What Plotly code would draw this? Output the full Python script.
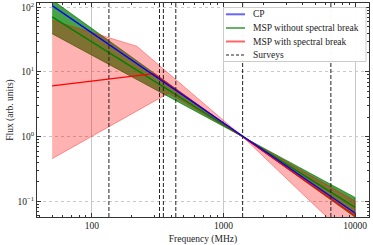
import plotly.graph_objects as go

# ---- data ----
cp_freq = [50, 10000]
cp_flux = [106, 0.066]

msp_freq = [50, 10000]
msp_flux = [71, 0.081]

green_upper_freq = [50, 1400, 10000]
green_upper_flux = [130, 1.0, 0.115]
green_lower_freq = [50, 1400, 10000]
green_lower_flux = [39, 1.0, 0.057]

brk_freq = [50, 295, 1400, 10000]
brk_flux = [6.1, 9.4, 1.0, 0.06]

red_upper_freq = [50, 220, 1400, 10000]
red_upper_flux = [63, 25, 1.0, 0.101]
red_lower_freq = [50, 383, 1400, 10000]
red_lower_flux = [0.457, 4.7, 1.0, 0.022]

survey_freqs = [135, 327, 350, 435, 1400, 6550]

x_tickvals = [100, 1000, 10000]
x_ticktext = ["100", "1000", "10000"]
y_tickvals = [0.1, 1, 10, 100]
y_ticktext = ["10<sup>\u22121</sup>", "10<sup>0</sup>", "10<sup>1</sup>", "10<sup>2</sup>"]

legend_names = ["CP", "MSP without spectral break", "MSP with spectral break", "Surveys"]
legend_colors = ["rgba(0,0,255,0.6)", "rgba(0,128,0,0.6)", "rgba(255,0,0,0.6)", "#222222"]

FONT = "Liberation Serif"
W, H = 373, 245
ML, MR, MT, MB = 37, 4, 3, 28
PW, PH = W - ML - MR, H - MT - MB

fig = go.Figure()

def band(uf, uv, lf, lv, fillcolor, linecolor):
    fig.add_trace(go.Scatter(
        x=list(uf) + list(reversed(lf)),
        y=list(uv) + list(reversed(lv)),
        fill="toself", fillcolor=fillcolor, mode="lines",
        line=dict(color=linecolor, width=0.8),
        showlegend=False, hoverinfo="skip"))

band(green_upper_freq, green_upper_flux, green_lower_freq, green_lower_flux,
     "rgba(0,128,0,0.72)", "rgba(0,110,0,0.8)")
band(red_upper_freq, red_upper_flux, red_lower_freq, red_lower_flux,
     "rgba(255,0,0,0.3)", "rgba(255,0,0,0.45)")

fig.add_trace(go.Scatter(x=msp_freq, y=msp_flux, mode="lines",
                         line=dict(color="#008000", width=1.3), showlegend=False))
fig.add_trace(go.Scatter(x=brk_freq, y=brk_flux, mode="lines",
                         line=dict(color="#ff0000", width=1.3), showlegend=False))
fig.add_trace(go.Scatter(x=cp_freq, y=cp_flux, mode="lines",
                         line=dict(color="#0000ff", width=1.3), showlegend=False))

for f in survey_freqs:
    fig.add_shape(type="line", xref="x", yref="paper", x0=f, x1=f, y0=0, y1=1,
                  line=dict(color="#222222", width=1, dash="4px,2px"), layer="above")

# ---- hand-drawn legend (pixel layout -> paper coords) ----
def px(xp):
    return (xp - ML) / PW

def py(yp):
    return 1 - (yp - MT) / PH

fig.add_shape(type="rect", xref="paper", yref="paper",
              x0=px(223.5), x1=px(366), y0=py(61.5), y1=py(7.5),
              line=dict(color="#cccccc", width=1), fillcolor="rgba(255,255,255,0.96)",
              layer="above")
row_y = [14.3, 28.0, 41.5, 55.0]
for name, col, yy in zip(legend_names, legend_colors, row_y):
    dash = "3px,2px" if name == "Surveys" else "solid"
    fig.add_shape(type="line", xref="paper", yref="paper",
                  x0=px(226), x1=px(245), y0=py(yy), y1=py(yy),
                  line=dict(color=col, width=2 if dash == "solid" else 1, dash=dash),
                  layer="above")
    fig.add_annotation(xref="paper", yref="paper", x=px(251), y=py(yy),
                       text=name, showarrow=False, xanchor="left", yanchor="middle",
                       font=dict(family=FONT, size=9.5, color="#222222"))

minor_x = [m * 10 ** e for e in range(1, 5) for m in range(2, 10)]
minor_y = [m * 10.0 ** e for e in range(-2, 3) for m in range(2, 10)]

axis_common = dict(
    type="log", showline=True, linecolor="#333333", linewidth=1, mirror="allticks",
    ticks="inside", ticklen=4, tickwidth=0.8, tickcolor="#333333",
    zeroline=False, tickfont=dict(family=FONT, size=9.5, color="#222222"),
)

fig.update_xaxes(
    **axis_common,
    range=[1.584, 4.106],
    tickmode="array", tickvals=x_tickvals, ticktext=x_ticktext,
    showgrid=True, gridcolor="#c8c8c8", gridwidth=0.8,
    minor=dict(tickmode="array", tickvals=minor_x, ticks="inside", ticklen=2,
               tickcolor="#333333", showgrid=False),
    title=dict(text="Frequency (MHz)", font=dict(family=FONT, size=9.5, color="#222222"),
               standoff=4),
)
fig.update_yaxes(
    **axis_common,
    range=[-1.241, 2.066],
    tickmode="array", tickvals=y_tickvals, ticktext=y_ticktext,
    showgrid=True, gridcolor="#c8c8c8", gridwidth=0.8, griddash="dot",
    minor=dict(tickmode="array", tickvals=minor_y, ticks="inside", ticklen=2,
               tickcolor="#333333", showgrid=False),
    title=dict(text="Flux (arb. units)", font=dict(family=FONT, size=9.5, color="#222222"),
               standoff=2),
)

fig.update_layout(
    width=W, height=H,
    margin=dict(l=ML, r=MR, t=MT, b=MB, autoexpand=False),
    paper_bgcolor="white", plot_bgcolor="white",
    font=dict(family=FONT, size=9.5, color="#222222"),
    showlegend=False,
)

fig.write_html("out.html", config={"displayModeBar": False},
               post_script="document.body.style.margin='0';")
